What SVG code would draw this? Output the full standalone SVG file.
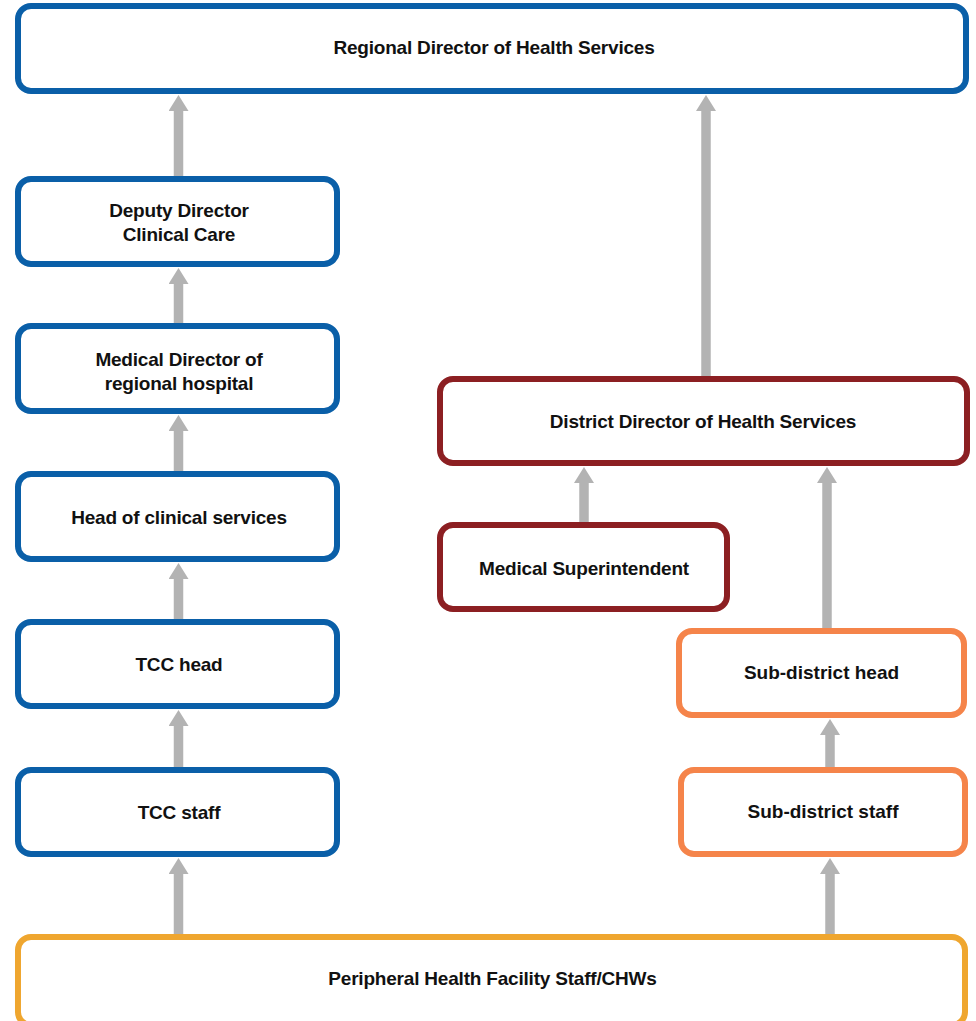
<svg xmlns="http://www.w3.org/2000/svg" width="976" height="1021" viewBox="0 0 976 1021">
  <style>
    .box { fill: #ffffff; stroke-width: 6; }
    .blue { stroke: #0A5FA8; }
    .red { stroke: #8C1F22; }
    .orange { stroke: #F5844A; }
    .yellow { stroke: #EFA62F; }
    .lbl { font-family: "Liberation Sans", Arial, sans-serif; font-weight: bold; font-size: 19px; fill: #111111; text-anchor: middle; letter-spacing: -0.2px; }
    .conn line { stroke: #B3B3B3; stroke-width: 9.5; marker-end: url(#ah); }
  </style>
  <defs>
    <marker id="ah" markerUnits="userSpaceOnUse" markerWidth="16" markerHeight="20" viewBox="0 0 16 20" refX="0" refY="10" orient="auto">
      <path d="M0,0 L16,10 L0,20 Z" fill="#B3B3B3"/>
    </marker>
  </defs>
  <rect width="976" height="1021" fill="#ffffff"/>

  <g id="connectors" class="conn">
    <line x1="178.5" y1="176" x2="178.5" y2="111"/>
    <line x1="178.5" y1="323" x2="178.5" y2="284"/>
    <line x1="178.5" y1="471" x2="178.5" y2="431"/>
    <line x1="178.5" y1="619" x2="178.5" y2="579"/>
    <line x1="178.5" y1="767" x2="178.5" y2="726"/>
    <line x1="178.5" y1="934" x2="178.5" y2="874"/>
    <line x1="706" y1="376" x2="706" y2="111"/>
    <line x1="584" y1="522" x2="584" y2="483"/>
    <line x1="827" y1="628" x2="827" y2="483"/>
    <line x1="830" y1="767" x2="830" y2="735"/>
    <line x1="830" y1="934" x2="830" y2="874"/>
  </g>

  <g id="regional">
    <rect class="box blue" x="18" y="6" width="948" height="85" rx="13"/>
    <text class="lbl" x="494" y="54">Regional Director of Health Services</text>
  </g>
  <g id="deputy">
    <rect class="box blue" x="18" y="179" width="319" height="85" rx="13"/>
    <text class="lbl" x="179" y="217">Deputy Director</text>
    <text class="lbl" x="179" y="240.5">Clinical Care</text>
  </g>
  <g id="medical-director">
    <rect class="box blue" x="18" y="326" width="319" height="85" rx="13"/>
    <text class="lbl" x="179" y="366">Medical Director of</text>
    <text class="lbl" x="179" y="389.5">regional hospital</text>
  </g>
  <g id="head-clinical">
    <rect class="box blue" x="18" y="474" width="319" height="85" rx="13"/>
    <text class="lbl" x="179" y="524">Head of clinical services</text>
  </g>
  <g id="tcc-head">
    <rect class="box blue" x="18" y="622" width="319" height="84" rx="13"/>
    <text class="lbl" x="179" y="671">TCC head</text>
  </g>
  <g id="tcc-staff">
    <rect class="box blue" x="18" y="770" width="319" height="84" rx="13"/>
    <text class="lbl" x="179" y="819">TCC staff</text>
  </g>
  <g id="district-director">
    <rect class="box red" x="440" y="379" width="527" height="84" rx="13"/>
    <text class="lbl" x="703" y="427.5">District Director of Health Services</text>
  </g>
  <g id="medical-superintendent">
    <rect class="box red" x="440" y="525" width="287" height="84" rx="13"/>
    <text class="lbl" x="584" y="575">Medical Superintendent</text>
  </g>
  <g id="subdistrict-head">
    <rect class="box orange" x="679" y="631" width="285" height="84" rx="13"/>
    <text class="lbl" x="821.5" y="679" style="letter-spacing:0">Sub-district head</text>
  </g>
  <g id="subdistrict-staff">
    <rect class="box orange" x="681" y="770" width="284" height="84" rx="13"/>
    <text class="lbl" x="823" y="818" style="letter-spacing:0">Sub-district staff</text>
  </g>
  <g id="peripheral">
    <rect class="box yellow" x="18" y="937" width="947" height="88" rx="13"/>
    <text class="lbl" x="492.5" y="985">Peripheral Health Facility Staff/CHWs</text>
  </g>
</svg>
